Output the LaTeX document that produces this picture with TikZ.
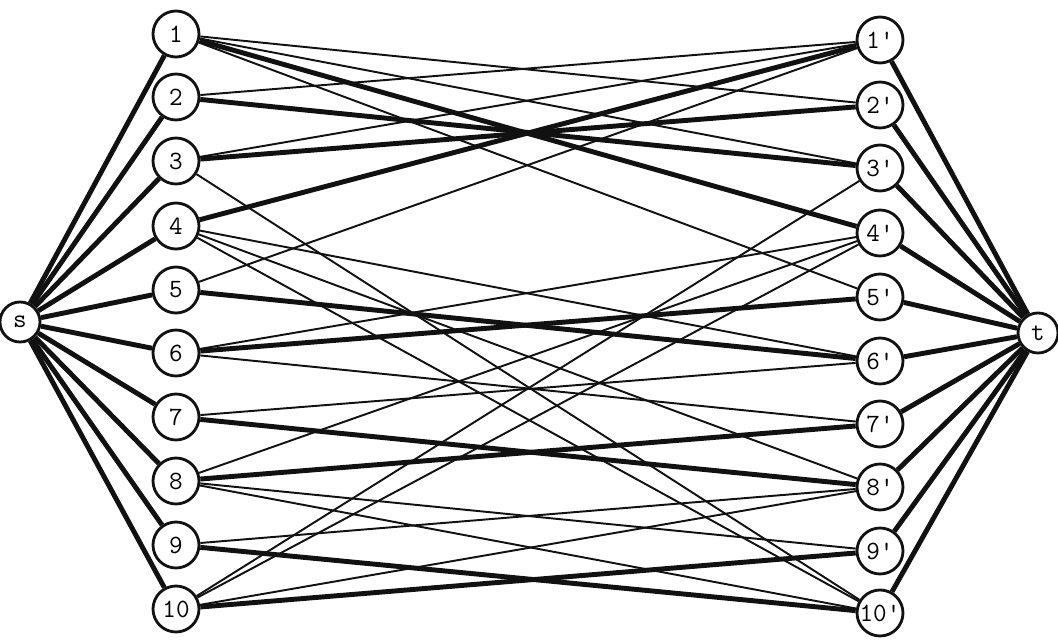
\documentclass[tikz,border=0pt]{standalone}
\usepackage{xcolor}
\usepackage{tikz}
\definecolor{ink}{HTML}{111111}
\tikzset{
  vtx/.style={circle, draw=ink, fill=white, line width=1.6pt, inner sep=0pt,
              minimum size=9.2mm, font=\ttfamily\fontsize{15}{17}\selectfont},
  endpt/.style={vtx, minimum size=8mm},
  heavy/.style={draw=ink, line width=2.8pt},
  lite/.style={draw=ink, line width=1.1pt},
}
\begin{document}
\begin{tikzpicture}[x=0.02cm, y=-0.02cm]
  \useasboundingbox (0,0) rectangle (1058,641);
  % source and sink
  \node[endpt] (s) at (20,322) {s};
  \node[endpt] (t) at (1038,333) {t};

  % left column
  \foreach \i/\y in {1/34,2/97,3/161,4/226,5/290,6/353,7/417,8/481,9/545,10/609}
    \node[vtx] (l\i) at (176,\y) {\i};

  % right column
  \foreach \i/\y in {1/40,2/105,3/168,4/233,5/297,6/361,7/424,8/487,9/551,10/613}
    \node[vtx] (r\i) at (880,\y) {\i'};

  % s and t arcs
  \foreach \i in {1,...,10} {
    \draw[heavy] (s) -- (l\i);
    \draw[heavy] (r\i) -- (t);
  }

  % matching
  \foreach \a/\b in {1/4,4/1,2/3,3/2,5/6,6/5,7/8,8/7,9/10,10/9}
    \draw[heavy] (l\a) -- (r\b);

  % other arcs
  \foreach \a/\b in {1/2,1/3,1/5,2/1,3/1,3/10,4/6,4/8,4/10,5/1,
                     6/4,6/7,7/6,8/4,8/9,8/10,9/8,10/3,10/4,10/8}
    \draw[lite] (l\a) -- (r\b);
\end{tikzpicture}
\end{document}
